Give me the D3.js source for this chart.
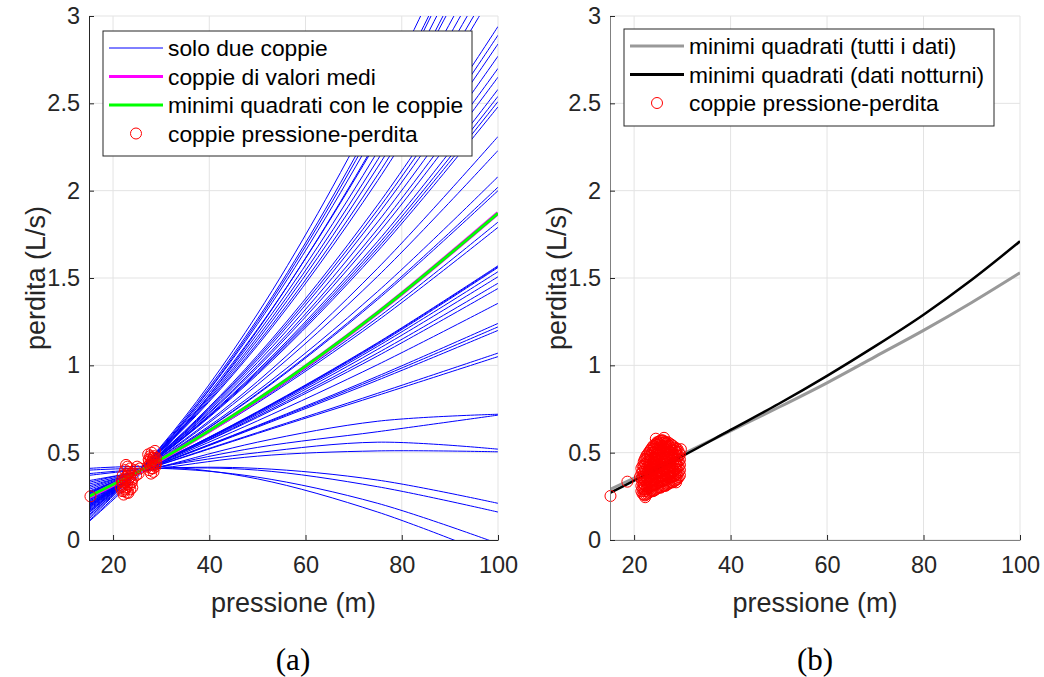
<!DOCTYPE html>
<html>
<head>
<meta charset="utf-8">
<script src="https://cdn.jsdelivr.net/npm/d3@7"></script>
<style>
  body { margin: 0; background: #fff; }
  svg { display: block; }
  .tick text { font-family: "Liberation Sans", Arial, sans-serif; font-size: 23.5px; fill: #262626; }
  .ax-label { font-family: "Liberation Sans", Arial, sans-serif; font-size: 27px; fill: #262626; }
  .leg-text { font-family: "Liberation Sans", Arial, sans-serif; font-size: 22.8px; fill: #000; }
  .panel { font-family: "Liberation Serif", "Times New Roman", serif; font-size: 31px; fill: #000; }
  .grid line { stroke: #e3e3e3; stroke-width: 1; }
</style>
</head>
<body>
<div class="container"></div>
<script>
// --- data ---
// pressures where each curve was sampled
const curvePress = [15, 30, 50, 75, 100];

// (a) curves fitted through two pairs only (perdita at curvePress)
const soloDue = [
  [0.41, 0.42, 0.35, 0.16, -0.10],
  [0.40, 0.41, 0.36, 0.21, -0.02],
  [0.38, 0.41, 0.40, 0.305, 0.16],
  [0.37, 0.41, 0.41, 0.343, 0.21],
  [0.34, 0.41, 0.48, 0.51, 0.505],
  [0.33, 0.42, 0.50, 0.56, 0.52],
  [0.31, 0.42, 0.56, 0.68, 0.72],
  [0.32, 0.42, 0.53, 0.62, 0.715],
  [0.30, 0.432, 0.61, 0.828, 1.05],
  [0.29, 0.433, 0.615, 0.84, 1.07],
  [0.28, 0.437, 0.646, 0.915, 1.20],
  [0.27, 0.438, 0.651, 0.927, 1.22],
  [0.275, 0.439, 0.655, 0.938, 1.24],
  [0.27, 0.443, 0.682, 1.004, 1.355],
  [0.26, 0.446, 0.702, 1.054, 1.44],
  [0.265, 0.447, 0.709, 1.071, 1.47],
  [0.255, 0.449, 0.718, 1.092, 1.507],
  [0.259, 0.45, 0.725, 1.109, 1.536],
  [0.25, 0.451, 0.732, 1.126, 1.565],
  [0.258, 0.45, 0.73, 1.12, 1.56],
  [0.262, 0.452, 0.735, 1.13, 1.57],
  [0.24, 0.459, 0.785, 1.256, 1.79],
  [0.245, 0.46, 0.792, 1.273, 1.82],
  [0.23, 0.467, 0.834, 1.377, 2.0],
  [0.234, 0.467, 0.839, 1.388, 2.02],
  [0.225, 0.47, 0.853, 1.423, 2.08],
  [0.22, 0.475, 0.889, 1.51, 2.23],
  [0.215, 0.478, 0.907, 1.556, 2.31],
  [0.21, 0.484, 0.947, 1.654, 2.48],
  [0.205, 0.485, 0.955, 1.671, 2.51],
  [0.207, 0.486, 0.962, 1.689, 2.54],
  [0.2, 0.487, 0.97, 1.71, 2.58],
  [0.195, 0.49, 0.988, 1.752, 2.65],
  [0.198, 0.492, 0.999, 1.781, 2.70],
  [0.19, 0.495, 1.016, 1.821, 2.77],
  [0.185, 0.497, 1.032, 1.862, 2.84],
  [0.189, 0.499, 1.044, 1.891, 2.89],
  [0.18, 0.501, 1.056, 1.919, 2.94],
  [0.174, 0.51, 1.113, 2.058, 3.18],
  [0.165, 0.512, 1.126, 2.091, 3.24],
  [0.167, 0.515, 1.144, 2.135, 3.31],
  [0.155, 0.517, 1.161, 2.177, 3.39],
  [0.159, 0.52, 1.181, 2.225, 3.47],
  [0.145, 0.524, 1.206, 2.286, 3.57],
  [0.14, 0.529, 1.235, 2.359, 3.70],
  [0.13, 0.533, 1.264, 2.429, 3.82],
  [0.12, 0.538, 1.294, 2.503, 3.95],
  [0.11, 0.52, 1.25, 2.40, 3.80],
  [0.105, 0.50, 1.20, 2.30, 3.62]
];
const valoriMedi = [0.247, 0.461, 0.802, 1.301, 1.872];
const minQuadCoppie = [0.25, 0.462, 0.804, 1.302, 1.87];

// (a) pressure-leak pairs [pressione, perdita]
const coppieA = [
  [15.3, 0.25],
  [21.6, 0.30], [21.8, 0.34], [22.0, 0.37], [22.1, 0.31], [22.3, 0.28], [22.4, 0.35],
  [22.5, 0.40], [22.6, 0.33], [22.8, 0.30], [22.9, 0.37], [23.0, 0.42], [23.1, 0.34],
  [23.2, 0.27], [23.3, 0.39], [23.4, 0.31], [23.5, 0.36], [23.7, 0.33], [23.8, 0.38],
  [24.0, 0.30], [24.1, 0.35], [22.2, 0.26], [23.6, 0.41], [22.7, 0.43],
  [22.0, 0.33], [22.4, 0.30], [22.7, 0.36], [23.0, 0.32], [23.2, 0.38], [22.5, 0.29],
  [23.6, 0.29], [22.9, 0.27], [21.9, 0.28], [23.9, 0.33],
  [24.6, 0.40], [25.0, 0.42], [25.3, 0.38], [25.6, 0.41], [24.8, 0.37],
  [27.2, 0.42], [27.4, 0.46], [27.5, 0.40], [27.7, 0.48], [27.8, 0.44], [28.0, 0.41],
  [28.0, 0.50], [28.2, 0.46], [28.3, 0.43], [28.4, 0.39], [28.5, 0.48], [28.6, 0.45],
  [28.8, 0.42], [28.9, 0.47], [29.0, 0.44], [27.9, 0.38], [28.7, 0.51], [27.3, 0.49],
  [27.6, 0.43], [28.1, 0.45], [28.4, 0.47], [27.9, 0.47], [28.3, 0.41], [28.7, 0.43], [27.5, 0.45]
];

// (b) least squares curves
const lsPress = [15, 20, 30, 40, 50, 60, 70, 80, 90, 100];
const lsTutti = [0.29, 0.355, 0.49, 0.625, 0.76, 0.90, 1.05, 1.20, 1.36, 1.53];
const lsNotturni = [0.27, 0.34, 0.48, 0.63, 0.78, 0.94, 1.11, 1.29, 1.49, 1.71];

// (b) pairs, grouped by pressure column: [pressione, [perdita...]]
const coppieBRows = [
  [21.5, [0.28, 0.31, 0.35, 0.38, 0.41]],
  [21.75, [0.265, 0.295, 0.325, 0.36, 0.39, 0.425]],
  [22.0, [0.26, 0.29, 0.32, 0.35, 0.38, 0.42, 0.45]],
  [22.25, [0.255, 0.28, 0.31, 0.345, 0.37, 0.405, 0.435, 0.465]],
  [22.5, [0.26, 0.29, 0.33, 0.36, 0.39, 0.43, 0.46, 0.48]],
  [22.75, [0.265, 0.295, 0.32, 0.35, 0.385, 0.415, 0.445, 0.475, 0.49]],
  [23.0, [0.27, 0.30, 0.33, 0.37, 0.40, 0.43, 0.46, 0.50]],
  [23.25, [0.275, 0.305, 0.335, 0.36, 0.39, 0.42, 0.455, 0.485, 0.51]],
  [23.5, [0.28, 0.31, 0.34, 0.38, 0.41, 0.44, 0.48, 0.52]],
  [23.75, [0.28, 0.31, 0.345, 0.37, 0.40, 0.43, 0.465, 0.50, 0.53]],
  [24.0, [0.28, 0.32, 0.35, 0.38, 0.42, 0.45, 0.49, 0.52, 0.54]],
  [24.25, [0.285, 0.315, 0.345, 0.375, 0.405, 0.44, 0.47, 0.505, 0.535]],
  [24.5, [0.29, 0.32, 0.36, 0.39, 0.42, 0.46, 0.49, 0.52, 0.55]],
  [24.75, [0.295, 0.325, 0.355, 0.385, 0.415, 0.45, 0.48, 0.51, 0.545, 0.56]],
  [25.0, [0.30, 0.33, 0.36, 0.40, 0.43, 0.47, 0.50, 0.53, 0.56]],
  [25.25, [0.30, 0.33, 0.36, 0.39, 0.42, 0.455, 0.485, 0.515, 0.55, 0.565]],
  [25.5, [0.30, 0.34, 0.37, 0.41, 0.44, 0.47, 0.50, 0.54, 0.57]],
  [25.75, [0.305, 0.335, 0.365, 0.395, 0.43, 0.46, 0.49, 0.525, 0.555, 0.57]],
  [26.0, [0.31, 0.34, 0.38, 0.41, 0.45, 0.48, 0.51, 0.54, 0.57]],
  [26.25, [0.31, 0.34, 0.37, 0.40, 0.435, 0.465, 0.495, 0.53, 0.56]],
  [26.5, [0.31, 0.35, 0.38, 0.42, 0.45, 0.48, 0.52, 0.55, 0.56]],
  [26.75, [0.315, 0.345, 0.375, 0.405, 0.44, 0.47, 0.505, 0.535, 0.555]],
  [27.0, [0.32, 0.36, 0.39, 0.42, 0.46, 0.49, 0.52, 0.56]],
  [27.25, [0.325, 0.355, 0.385, 0.415, 0.445, 0.475, 0.51, 0.54]],
  [27.5, [0.33, 0.36, 0.40, 0.43, 0.46, 0.50, 0.53, 0.55]],
  [27.75, [0.33, 0.36, 0.39, 0.42, 0.455, 0.485, 0.515, 0.545]],
  [28.0, [0.33, 0.37, 0.40, 0.44, 0.47, 0.50, 0.54]],
  [28.25, [0.335, 0.365, 0.395, 0.43, 0.46, 0.49, 0.525]],
  [28.5, [0.34, 0.37, 0.41, 0.44, 0.48, 0.51, 0.53]],
  [28.75, [0.345, 0.375, 0.405, 0.435, 0.465, 0.50, 0.52]],
  [29.0, [0.35, 0.38, 0.42, 0.45, 0.48, 0.52]],
  [29.25, [0.36, 0.39, 0.42, 0.45, 0.48, 0.505]],
  [29.5, [0.37, 0.40, 0.43, 0.46, 0.49]]
];
const coppieBExtra = [
  [15.1, 0.252], [18.6, 0.334], [26.2, 0.585], [28.7, 0.33],
  [22.3, 0.245], [21.2, 0.36], [24.5, 0.58], [29.7, 0.52]
];

const xTicks = [20, 40, 60, 80, 100];
const yTicks = [0, 0.5, 1, 1.5, 2, 2.5, 3];

// --- layout ---
const W = 1044, H = 677;
const plotTop = 16, plotBottom = 540;

const svg = d3.select(".container")
  .append("svg")
    .attr("width", W)
    .attr("height", H);

const y = d3.scaleLinear().domain([0, 3]).range([plotBottom, plotTop]);
const xA = d3.scaleLinear().domain([15, 100]).range([89, 498]);
const xB = d3.scaleLinear().domain([15, 100]).range([610, 1020]);

function drawFrame(x, id) {
  const g = svg.append("g");
  const [x0, x1] = x.range();

  // grid
  const grid = g.append("g").classed("grid", true);
  grid.selectAll(".gx").data(xTicks).enter().append("line")
    .attr("x1", d => x(d)).attr("x2", d => x(d))
    .attr("y1", plotTop).attr("y2", plotBottom);
  grid.selectAll(".gy").data(yTicks).enter().append("line")
    .attr("x1", x0).attr("x2", x1)
    .attr("y1", d => y(d)).attr("y2", d => y(d));

  svg.append("clipPath").attr("id", id)
    .append("rect")
    .attr("x", x0).attr("y", plotTop)
    .attr("width", x1 - x0).attr("height", plotBottom - plotTop);

  return g;
}

function drawAxes(x, axisColor) {
  const xa = svg.append("g")
    .attr("transform", "translate(0," + plotBottom + ")")
    .call(d3.axisBottom(x).tickValues(xTicks).tickSizeInner(-5).tickSizeOuter(0).tickPadding(16));
  const ya = svg.append("g")
    .attr("transform", "translate(" + x.range()[0] + ",0)")
    .call(d3.axisLeft(y).tickValues(yTicks).tickFormat(d3.format("~g")).tickSizeInner(-5).tickSizeOuter(0).tickPadding(9));
  [xa, ya].forEach(a => {
    a.select(".domain").attr("stroke", axisColor).attr("stroke-width", 1);
    a.selectAll(".tick line").attr("stroke", "#262626");
  });

  const cx = (x.range()[0] + x.range()[1]) / 2;
  svg.append("text").classed("ax-label", true)
    .attr("x", cx).attr("y", 612)
    .attr("text-anchor", "middle")
    .text("pressione (m)");
  svg.append("text").classed("ax-label", true)
    .attr("transform", "translate(" + (x.range()[0] - 44) + "," + ((plotTop + plotBottom) / 2) + ") rotate(-90)")
    .attr("text-anchor", "middle")
    .text("perdita (L/s)");
}

function legend(x0, y0, w, h, items) {
  const g = svg.append("g").attr("transform", "translate(" + x0 + "," + y0 + ")");
  g.append("rect")
    .attr("width", w).attr("height", h)
    .attr("fill", "#fff").attr("stroke", "#262626").attr("stroke-width", 1);
  items.forEach((it, i) => {
    const yy = 17 + i * 28.5;
    if (it.type === "line") {
      g.append("line")
        .attr("x1", 6).attr("x2", 60).attr("y1", yy).attr("y2", yy)
        .attr("stroke", it.color).attr("stroke-width", it.width);
    } else {
      g.append("circle")
        .attr("cx", 33).attr("cy", yy).attr("r", 5.5)
        .attr("fill", "none").attr("stroke", "red").attr("stroke-width", 1);
    }
    g.append("text").classed("leg-text", true)
      .attr("x", 65).attr("y", yy + 8)
      .text(it.label);
  });
}

// ---------- panel (a) ----------
drawFrame(xA, "clipA");
const lineA = d3.line()
  .x((d, i) => xA(curvePress[i]))
  .y(d => y(d))
  .curve(d3.curveCatmullRom.alpha(0.5));

const gA = svg.append("g").attr("clip-path", "url(#clipA)");
gA.selectAll(".solo").data(soloDue).enter().append("path")
  .attr("d", lineA)
  .attr("fill", "none").attr("stroke", "#0000ff").attr("stroke-width", 1);
gA.append("path").datum(valoriMedi)
  .attr("d", lineA)
  .attr("fill", "none").attr("stroke", "#ff00ff").attr("stroke-width", 4);
gA.append("path").datum(minQuadCoppie)
  .attr("d", lineA)
  .attr("fill", "none").attr("stroke", "#00ff00").attr("stroke-width", 3);
// markers are not clipped (as in the original)
svg.append("g").selectAll(".pt").data(coppieA).enter().append("circle")
  .attr("cx", d => xA(d[0])).attr("cy", d => y(d[1])).attr("r", 5.5)
  .attr("fill", "none").attr("stroke", "red").attr("stroke-width", 1);

drawAxes(xA, "#262626");
legend(103, 31, 369, 125, [
  {type: "line", color: "#0000ff", width: 1, label: "solo due coppie"},
  {type: "line", color: "#ff00ff", width: 3, label: "coppie di valori medi"},
  {type: "line", color: "#00ff00", width: 3, label: "minimi quadrati con le coppie"},
  {type: "circle", label: "coppie pressione-perdita"}
]);

// ---------- panel (b) ----------
drawFrame(xB, "clipB");
const lineB = d3.line()
  .x((d, i) => xB(lsPress[i]))
  .y(d => y(d))
  .curve(d3.curveCatmullRom.alpha(0.5));

const coppieB = [];
coppieBRows.forEach(r => r[1].forEach(v => coppieB.push([r[0], v])));
coppieBExtra.forEach(d => coppieB.push(d));

const gB = svg.append("g").attr("clip-path", "url(#clipB)");
gB.append("path").datum(lsTutti)
  .attr("d", lineB)
  .attr("fill", "none").attr("stroke", "#999999").attr("stroke-width", 3);
gB.append("path").datum(lsNotturni)
  .attr("d", lineB)
  .attr("fill", "none").attr("stroke", "#000").attr("stroke-width", 2.5);
svg.append("g").selectAll(".pt").data(coppieB).enter().append("circle")
  .attr("cx", d => xB(d[0])).attr("cy", d => y(d[1])).attr("r", 5.5)
  .attr("fill", "none").attr("stroke", "red").attr("stroke-width", 1);

drawAxes(xB, "#808080");
legend(624, 29, 370, 97, [
  {type: "line", color: "#999999", width: 3, label: "minimi quadrati (tutti i dati)"},
  {type: "line", color: "#000", width: 3, label: "minimi quadrati (dati notturni)"},
  {type: "circle", label: "coppie pressione-perdita"}
]);

// panel letters
svg.append("text").classed("panel", true)
  .attr("x", 293).attr("y", 670).attr("text-anchor", "middle").text("(a)");
svg.append("text").classed("panel", true)
  .attr("x", 815).attr("y", 670).attr("text-anchor", "middle").text("(b)");
</script>
</body>
</html>
